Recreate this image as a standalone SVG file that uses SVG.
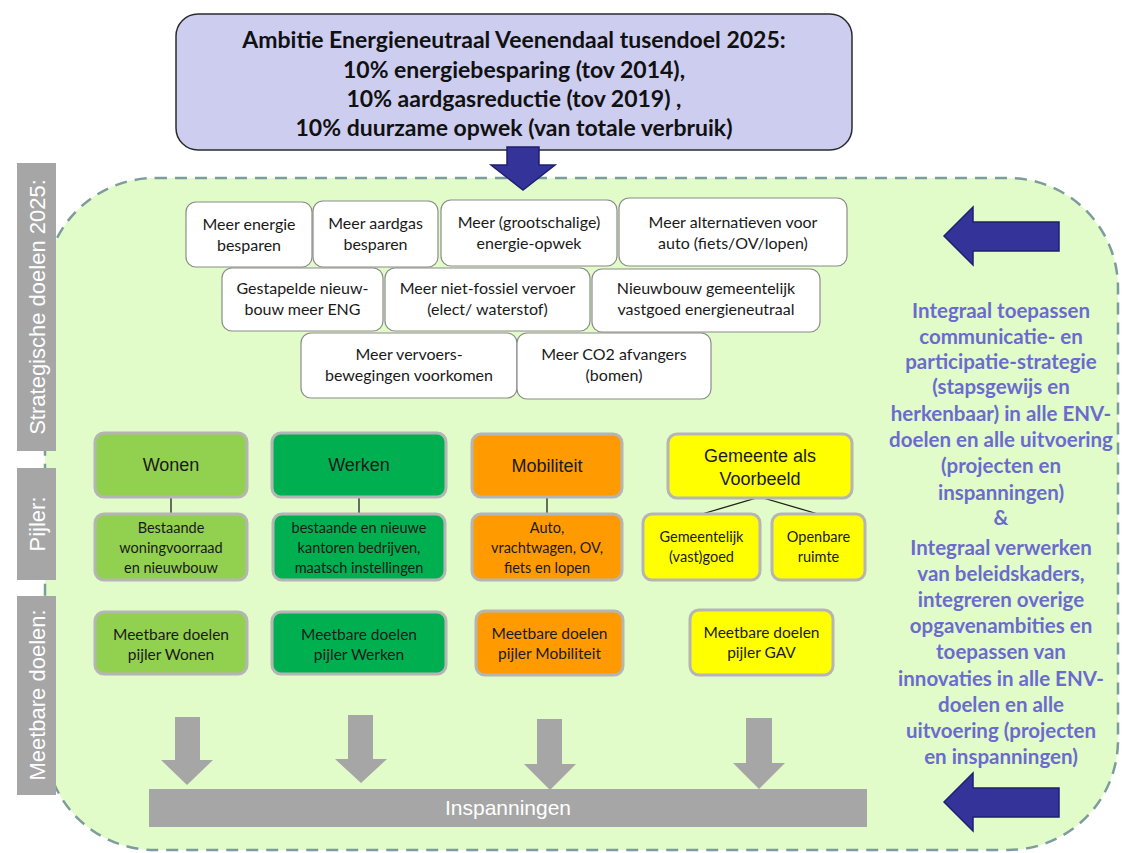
<svg xmlns="http://www.w3.org/2000/svg" width="1124" height="853" viewBox="0 0 1124 853">
<style>
.bg{fill:#e1fbc9;stroke:#7d9c9c;stroke-width:2.5;stroke-dasharray:12 8}
.lbl{fill:#a6a6a6}
.lt{font-family:"Liberation Sans",Arial,sans-serif;font-size:22px;fill:#ffffff;text-anchor:middle}
.top{fill:#cdcdf0;stroke:#2b2b2b;stroke-width:1.5}
.tt{font-family:Lato,"Noto Sans",sans-serif;font-weight:bold;font-size:23px;fill:#111;text-anchor:middle}
.nd{fill:#ffffff;stroke:#8c8c8c;stroke-width:1.2}
.nt{font-family:Lato,"Noto Sans",sans-serif;font-size:16px;fill:#1a1a1a;text-anchor:middle}
.pb{stroke:#b5b5b5;stroke-width:3}
.g1{fill:#92d050}.g2{fill:#00b050}.g3{fill:#ff9a00}.g4{fill:#ffff00}
.pt{font-family:"Liberation Sans",Arial,sans-serif;font-size:18px;fill:#1a1a1a;text-anchor:middle}
.st{font-family:Lato,"Noto Sans",sans-serif;font-size:14.5px;fill:#1a1a1a;text-anchor:middle}
.mt{font-family:Lato,"Noto Sans",sans-serif;font-size:15.5px;fill:#1a1a1a;text-anchor:middle}
.sst{font-family:Lato,"Noto Sans",sans-serif;font-size:14.5px;fill:#1a1a1a;text-anchor:middle}
.ln{stroke:#222;stroke-width:1.3;fill:none}
.ga{fill:#a6a6a6}
.ba{fill:#333399;stroke:#1f1f70;stroke-width:1.5}
.rt{font-family:Lato,"Noto Sans",sans-serif;font-weight:bold;font-size:20.5px;fill:#6b6bcf;text-anchor:middle}
.it{font-family:"Liberation Sans",Arial,sans-serif;font-size:21px;fill:#ffffff;text-anchor:middle}
</style>

<g id="background">
<rect class="bg" x="45" y="178" width="1073" height="672" rx="110" ry="110"/>
</g>

<g id="label-strategisch">
<rect class="lbl" x="17" y="163" width="39" height="288"/>
<text class="lt" transform="translate(45,307) rotate(-90)">Strategische doelen 2025:</text>
</g>
<g id="label-pijler">
<rect class="lbl" x="17" y="468" width="39" height="112"/>
<text class="lt" transform="translate(45,524) rotate(-90)">Pijler:</text>
</g>
<g id="label-meetbaar">
<rect class="lbl" x="17" y="596" width="39" height="199"/>
<text class="lt" transform="translate(45,695) rotate(-90)">Meetbare doelen:</text>
</g>

<g id="ambitie">
<rect class="top" x="176" y="14" width="676" height="136" rx="22" ry="22"/>
<text class="tt" x="514" y="48">Ambitie Energieneutraal Veenendaal tusendoel 2025:</text>
<text class="tt" x="514" y="78">10% energiebesparing (tov 2014),</text>
<text class="tt" x="514" y="107">10% aardgasreductie (tov 2019) ,</text>
<text class="tt" x="514" y="136">10% duurzame opwek (van totale verbruik)</text>
</g>

<g id="connectors">
<polygon class="ba" points="507,147 539,147 539,165 555,165 523,190 491,165 507,165"/>
<polygon class="ba" points="944,236 973,207 973,222 1059,222 1059,251 973,251 973,265"/>
<polygon class="ba" points="944,802 973,773 973,788 1059,788 1059,817 973,817 973,831"/>
<line class="ln" x1="171" y1="497" x2="171" y2="514"/>
<line class="ln" x1="359" y1="497" x2="359" y2="514"/>
<line class="ln" x1="547" y1="497" x2="547" y2="514"/>
<polyline class="ln" points="702,514 760,497 818,514"/>
<polygon class="ga" points="175,717 200,717 200,760 213,760 187,785 161,760 175,760"/>
<polygon class="ga" points="348,715 373,715 373,759 387,759 361,783 335,759 348,759"/>
<polygon class="ga" points="537,719 562,719 562,764 576,764 550,790 524,764 537,764"/>
<polygon class="ga" points="746,718 772,718 772,763 785,763 759,789 733,763 746,763"/>
</g>

<g id="n1"><rect class="nd" x="186" y="202" width="126" height="65" rx="10"/>
<text class="nt" x="249" y="230">Meer energie</text><text class="nt" x="249" y="251">besparen</text></g>
<g id="n2"><rect class="nd" x="313" y="201" width="125" height="66" rx="10"/>
<text class="nt" x="375.5" y="229">Meer aardgas</text><text class="nt" x="375.5" y="250">besparen</text></g>
<g id="n3"><rect class="nd" x="441" y="200" width="176" height="66" rx="10"/>
<text class="nt" x="529" y="228">Meer (grootschalige)</text><text class="nt" x="529" y="249">energie-opwek</text></g>
<g id="n4"><rect class="nd" x="619" y="198" width="228" height="68" rx="10"/>
<text class="nt" x="733" y="228">Meer alternatieven voor</text><text class="nt" x="733" y="249">auto (fiets/OV/lopen)</text></g>
<g id="n5"><rect class="nd" x="222" y="268" width="161" height="63" rx="10"/>
<text class="nt" x="302.5" y="294">Gestapelde nieuw-</text><text class="nt" x="302.5" y="315">bouw meer ENG</text></g>
<g id="n6"><rect class="nd" x="385" y="268" width="205" height="63" rx="10"/>
<text class="nt" x="487.5" y="294">Meer niet-fossiel vervoer</text><text class="nt" x="487.5" y="315">(elect/ waterstof)</text></g>
<g id="n7"><rect class="nd" x="592" y="269" width="228" height="63" rx="10"/>
<text class="nt" x="706" y="294">Nieuwbouw  gemeentelijk</text><text class="nt" x="706" y="315">vastgoed energieneutraal</text></g>
<g id="n8"><rect class="nd" x="301" y="333" width="216" height="65" rx="10"/>
<text class="nt" x="409" y="360">Meer vervoers-</text><text class="nt" x="409" y="381">bewegingen voorkomen</text></g>
<g id="n9"><rect class="nd" x="517" y="333" width="194" height="66" rx="10"/>
<text class="nt" x="614" y="360">Meer CO2 afvangers</text><text class="nt" x="614" y="381">(bomen)</text></g>

<g id="wonen"><rect class="pb g1" x="95" y="433" width="152" height="64" rx="9"/>
<text class="pt" x="171" y="471">Wonen</text></g>
<g id="werken"><rect class="pb g2" x="272" y="433" width="174" height="64" rx="9"/>
<text class="pt" x="359" y="471">Werken</text></g>
<g id="mobiliteit"><rect class="pb g3" x="472" y="434" width="150" height="63" rx="9"/>
<text class="pt" x="547" y="472">Mobiliteit</text></g>
<g id="gemeente"><rect class="pb g4" x="668" y="434" width="184" height="64" rx="9"/>
<text class="pt" x="760" y="462">Gemeente als</text><text class="pt" x="760" y="485">Voorbeeld</text></g>

<g id="wonen-sub"><rect class="pb g1" x="95" y="514" width="152" height="66" rx="9"/>
<text class="st" x="171" y="533">Bestaande</text><text class="st" x="171" y="553">woningvoorraad</text><text class="st" x="171" y="573">en nieuwbouw</text></g>
<g id="werken-sub"><rect class="pb g2" x="273" y="514" width="172" height="66" rx="9"/>
<text class="st" x="359" y="533">bestaande en nieuwe</text><text class="st" x="359" y="553">kantoren bedrijven,</text><text class="st" x="359" y="573">maatsch instellingen</text></g>
<g id="mobiliteit-sub"><rect class="pb g3" x="472" y="514" width="150" height="66" rx="9"/>
<text class="st" x="547" y="533">Auto,</text><text class="st" x="547" y="553">vrachtwagen, OV,</text><text class="st" x="547" y="573">fiets en lopen</text></g>
<g id="gemeentelijk"><rect class="pb g4" x="643" y="514" width="117" height="66" rx="9"/>
<text class="sst" x="701.5" y="542">Gemeentelijk</text><text class="sst" x="701.5" y="562">(vast)goed</text></g>
<g id="openbare"><rect class="pb g4" x="772" y="514" width="93" height="66" rx="9"/>
<text class="sst" x="818.5" y="542">Openbare</text><text class="sst" x="818.5" y="562">ruimte</text></g>

<g id="meet-wonen"><rect class="pb g1" x="95" y="612" width="152" height="62" rx="9"/>
<text class="mt" x="171" y="640">Meetbare doelen</text><text class="mt" x="171" y="660">pijler Wonen</text></g>
<g id="meet-werken"><rect class="pb g2" x="272" y="612" width="174" height="62" rx="9"/>
<text class="mt" x="359" y="640">Meetbare doelen</text><text class="mt" x="359" y="660">pijler Werken</text></g>
<g id="meet-mobiliteit"><rect class="pb g3" x="476" y="611" width="147" height="64" rx="9"/>
<text class="mt" x="549.5" y="639">Meetbare doelen</text><text class="mt" x="549.5" y="659">pijler Mobiliteit</text></g>
<g id="meet-gav"><rect class="pb g4" x="690" y="610" width="143" height="65" rx="9"/>
<text class="mt" x="761.5" y="638">Meetbare doelen</text><text class="mt" x="761.5" y="658">pijler GAV</text></g>

<g id="inspanningen">
<rect class="ga" x="149" y="789" width="718" height="38"/>
<text class="it" x="508" y="815">Inspanningen</text>
</g>

<g id="integraal">
<text class="rt" x="1001" y="318">Integraal toepassen</text>
<text class="rt" x="1001" y="344">communicatie- en</text>
<text class="rt" x="1001" y="369">participatie-strategie</text>
<text class="rt" x="1001" y="394">(stapsgewijs en</text>
<text class="rt" x="1001" y="421">herkenbaar) in alle ENV-</text>
<text class="rt" x="1001" y="447">doelen en alle uitvoering</text>
<text class="rt" x="1001" y="473">(projecten en</text>
<text class="rt" x="1001" y="500">inspanningen)</text>
<text class="rt" x="1001" y="525">&amp;</text>
<text class="rt" x="1001" y="555">Integraal verwerken</text>
<text class="rt" x="1001" y="581">van beleidskaders,</text>
<text class="rt" x="1001" y="607">integreren overige</text>
<text class="rt" x="1001" y="633">opgavenambities en</text>
<text class="rt" x="1001" y="659">toepassen van</text>
<text class="rt" x="1001" y="686">innovaties in alle ENV-</text>
<text class="rt" x="1001" y="712">doelen en alle</text>
<text class="rt" x="1001" y="738">uitvoering (projecten</text>
<text class="rt" x="1001" y="764">en inspanningen)</text>
</g>
</svg>
